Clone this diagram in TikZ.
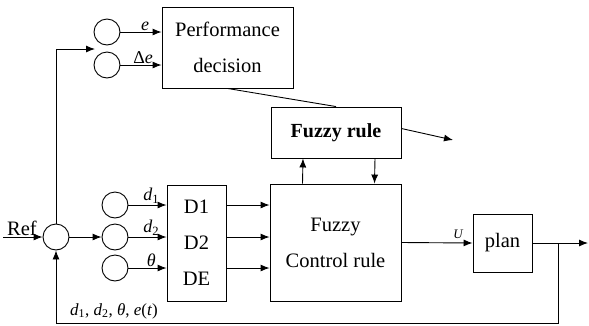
\documentclass[tikz,border=0pt]{standalone}
\usepackage{fontspec}
\setmainfont{Liberation Serif}
\usetikzlibrary{arrows.meta, positioning, calc}

\newcommand{\sigvar}[1]{\textit{#1}}

\begin{document}
\begin{tikzpicture}[x=1pt, y=-1pt,
  block/.style={draw, line width=0.9pt, inner sep=0pt, align=center, font=\fontsize{20.5}{36}\selectfont},
  port/.style={draw, circle, line width=0.9pt, minimum size=26pt, inner sep=0pt},
  sig/.style={font=\fontsize{18}{18}\selectfont, inner sep=1pt},
  wire/.style={line width=0.9pt},
  arr/.style={wire, -{Latex[length=9pt, width=7pt]}},
]
\useasboundingbox (0,0) rectangle (589,325);

% Blocks
\node[block, minimum width=131pt, minimum height=81pt] (perf) at (227.5,47.5) {Performance\\decision};
\node[block, font=\fontsize{20}{36}\selectfont\bfseries, minimum width=130pt, minimum height=51pt] (frule) at (336,132.5) {Fuzzy rule};
\node[block, minimum width=131pt, minimum height=117pt] (ctrl) at (335.5,242.5) {Fuzzy\\Control rule};
\node[block, minimum width=59pt, minimum height=116pt] (dbox) at (196.5,243) {D1\\D2\\DE};
\node[block, minimum width=59pt, minimum height=58pt] (plan) at (502.5,243) {plan};

% Circles
\node[port] (ce) at (107,32) {};
\node[port] (cde) at (107,65) {};
\node[port] (sum) at (56,237) {};
\node[port] (cd1) at (115,205) {};
\node[port] (cd2) at (115,237) {};
\node[port] (cth) at (115,268) {};

% Reference input
\node[font=\fontsize{20.5}{22}\selectfont, inner sep=0pt] (ref) at (22,228) {Ref};
\coordinate (refin) at (3,237);
\draw[arr] (refin) -- (sum.west);

% === Performance branch ===
\coordinate (topin) at (95,49);
\draw[arr] (sum.north) |- (topin);
\draw[arr] (ce) -- (ce -| perf.west) node[sig, pos=0.6, above] {\sigvar{e}};
\draw[arr] (cde) -- (cde -| perf.west) node[sig, pos=0.55, above] {Δ\sigvar{e}};
\draw[wire] (perf.south) -- (frule.north);
\coordinate (fout) at (453,140);
\draw[arr] ([yshift=4pt]frule.east) -- (fout);
\draw[arr] ([xshift=-33pt]ctrl.north) -- ([xshift=-33pt]frule.south);
\draw[arr] ([xshift=39pt]frule.south) -- ([xshift=39pt]ctrl.north);

% === Decision inputs ===
\draw[arr] (sum.east) -- (cd2.west);
\draw[arr] (cd1) -- (cd1 -| dbox.west) node[sig, pos=0.6, above] {\sigvar{d}\textsubscript{1}};
\draw[arr] (cd2) -- (cd2 -| dbox.west) node[sig, pos=0.6, above] {\sigvar{d}\textsubscript{2}};
\draw[arr] (cth) -- (cth -| dbox.west) node[sig, pos=0.6, above] {\sigvar{θ}};
\foreach \c in {cd1, cd2, cth}
  \draw[arr] (\c -| dbox.east) -- (\c -| ctrl.west);

% === Plant and feedback ===
\draw[arr] (ctrl.east) -- (plan.west) node[font=\fontsize{13}{13}\selectfont, pos=0.8, above] {\sigvar{U}};
\coordinate (out) at (588,243);
\coordinate (branch) at (558,243);
\draw[arr] (plan.east) -- (out);
\coordinate (fbcorner) at (56,323);
\draw[arr] (branch) |- (fbcorner) -- (sum.south);
\node[sig, font=\fontsize{17}{17}\selectfont] (fblabel) at (114,311) {\sigvar{d}\textsubscript{1}, \sigvar{d}\textsubscript{2}, \sigvar{θ}, \sigvar{e}(\sigvar{t})};
\end{tikzpicture}
\end{document}
